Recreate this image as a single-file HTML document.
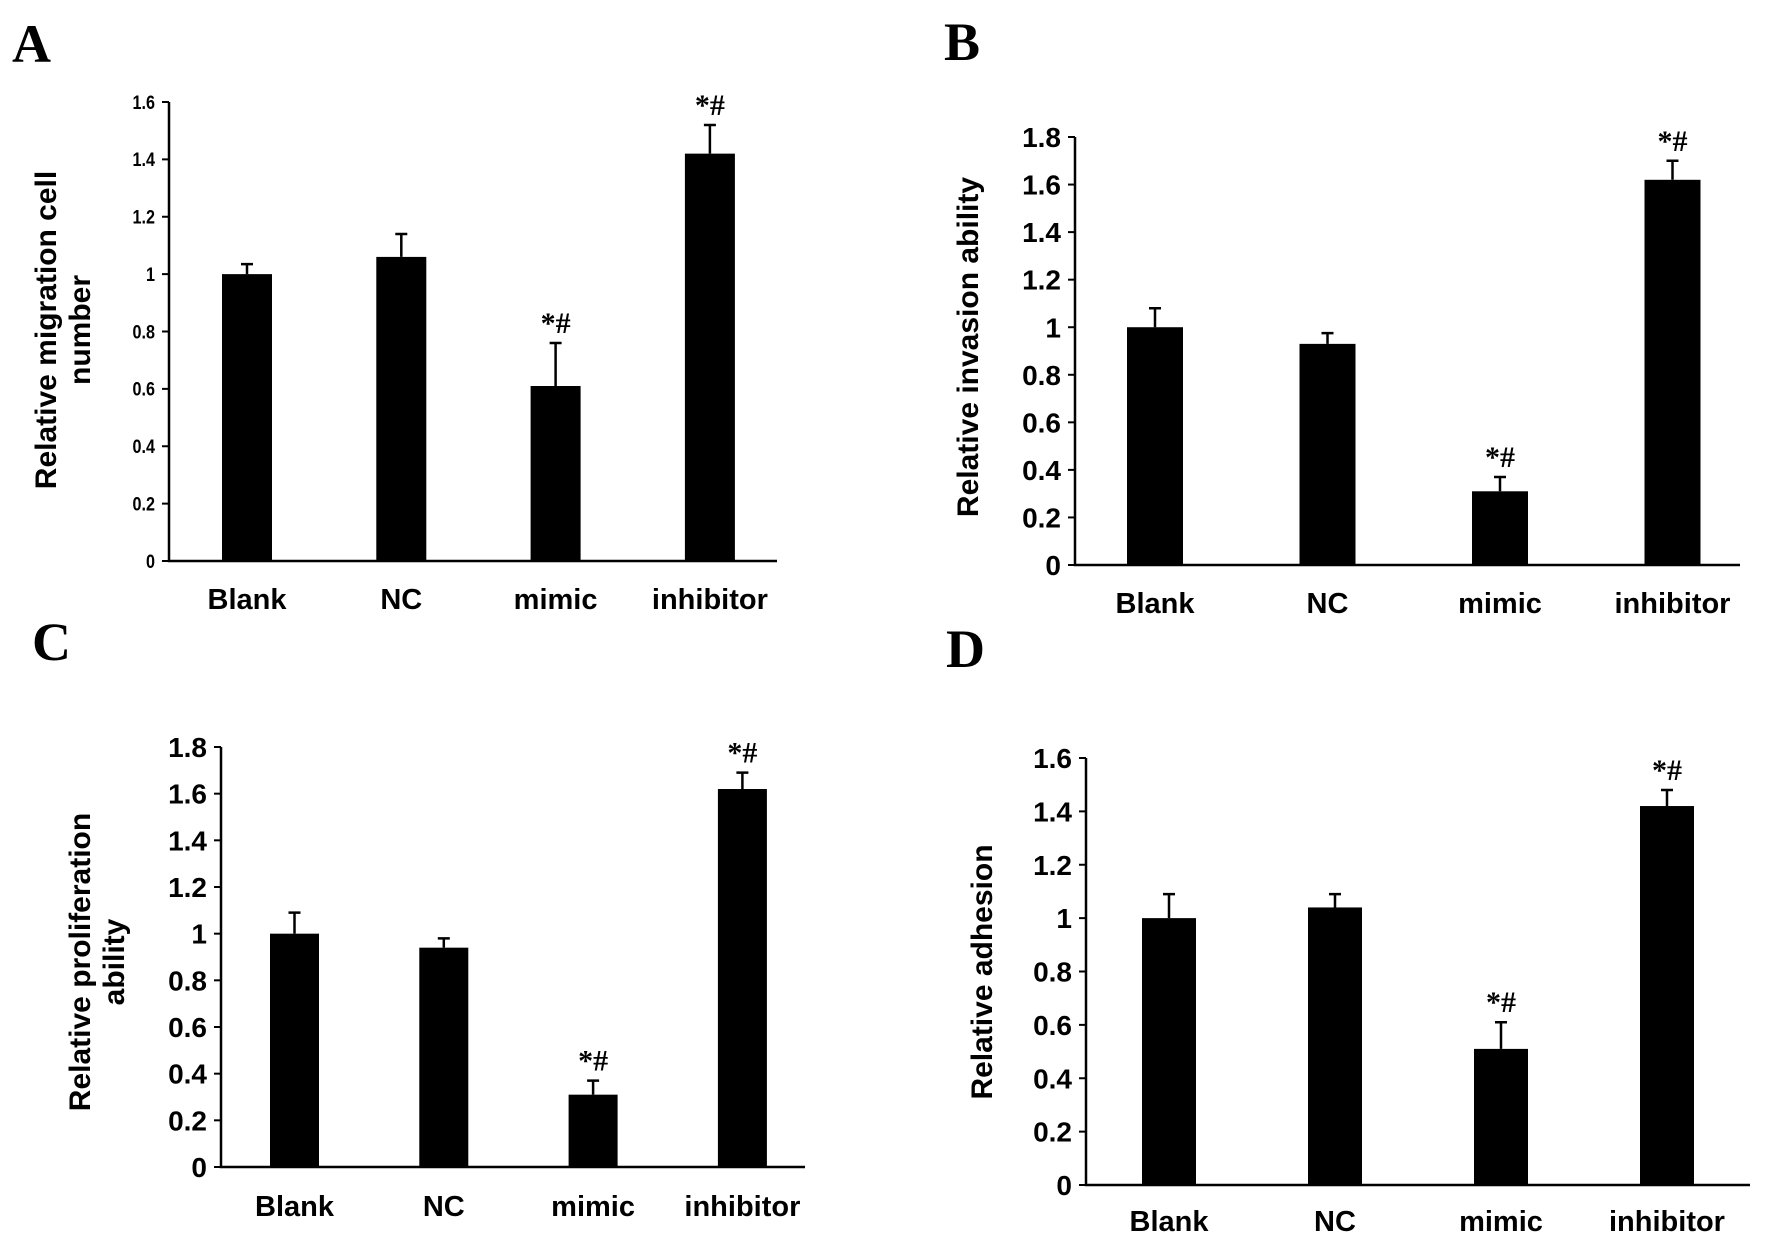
<!DOCTYPE html>
<html><head><meta charset="utf-8"><style>
body{margin:0;background:#fff;overflow:hidden;}
svg{display:block;font-family:"Liberation Sans",sans-serif;font-weight:bold;}
</style></head><body>
<svg id="fig" width="1772" height="1258" viewBox="0 0 1772 1258">
<text x="12" y="62" font-family="Liberation Serif" font-size="54">A</text>
<text x="944" y="60" font-family="Liberation Serif" font-size="54">B</text>
<text x="32" y="660" font-family="Liberation Serif" font-size="54">C</text>
<text x="946" y="667" font-family="Liberation Serif" font-size="54">D</text>
</svg>
<script>
const categories = ["Blank","NC","mimic","inhibitor"];
const valuesA = [1.0, 1.06, 0.61, 1.42];
const errorsA = [0.035, 0.08, 0.15, 0.10];
const valuesB = [1.0, 0.93, 0.31, 1.62];
const errorsB = [0.08, 0.045, 0.06, 0.08];
const valuesC = [1.0, 0.94, 0.31, 1.62];
const errorsC = [0.09, 0.04, 0.06, 0.07];
const valuesD = [1.0, 1.04, 0.51, 1.42];
const errorsD = [0.09, 0.05, 0.10, 0.06];
const ticksA = ["0","0.2","0.4","0.6","0.8","1","1.2","1.4","1.6"];
const ticksB = ["0","0.2","0.4","0.6","0.8","1","1.2","1.4","1.6","1.8"];
const ticksC = ["0","0.2","0.4","0.6","0.8","1","1.2","1.4","1.6","1.8"];
const ticksD = ["0","0.2","0.4","0.6","0.8","1","1.2","1.4","1.6"];
const sigA = ["","","*#","*#"], sigB = ["","","*#","*#"], sigC = ["","","*#","*#"], sigD = ["","","*#","*#"];

const NS="http://www.w3.org/2000/svg";
const svg=document.getElementById('fig');
function mk(tag,attrs,parent){const e=document.createElementNS(NS,tag);for(const k in attrs)e.setAttribute(k,attrs[k]);(parent||svg).appendChild(e);return e;}

function panel(p,name,vals,errs,ticks,sig,title){
  const g=mk('g',{});
  
  
  const max=parseFloat(ticks[ticks.length-1]);
  const y=v=>p.y0-(v/max)*(p.y0-p.yTop);
  const x=i=>p.bx0+i*p.step;
  const ax=mk('path',{d:`M${p.ax} ${p.yTop} V${p.y0} H${p.xEnd}`,stroke:'#000','stroke-width':2.5,fill:'none'},g);
  
  
  ticks.forEach(t=>{
    const v=parseFloat(t);
    mk('line',{x1:p.ax-7,x2:p.ax,y1:y(v),y2:y(v),stroke:'#000','stroke-width':2},g);
    const tx=mk('text',{x:p.ax-14,y:y(v)+p.tf*0.36,'text-anchor':'end','font-size':p.tf,transform:p.cond?`translate(${(p.ax-14)*0.15},0) scale(0.85,1)`:''},g);
    tx.textContent=t;
    
    
  });
  vals.forEach((v,i)=>{
    const cx=x(i)+p.bw/2;
    const eb=mk('path',{d:`M${cx} ${y(v)} V${y(v+errs[i])} M${cx-6} ${y(v+errs[i])} H${cx+6}`,stroke:'#000','stroke-width':2.5,fill:'none'},g);
    
    
    const r=mk('rect',{x:x(i),y:y(v),width:p.bw,height:p.y0-y(v),fill:'#000'},g);
    
    
    if(sig[i]){
      const s=mk('text',{x:cx,y:y(v+errs[i])-10,'text-anchor':'middle','font-size':30,'font-family':'Liberation Serif'},g);
      s.textContent=sig[i];
      
      
    }
    const l=mk('text',{x:cx,y:p.ly,'text-anchor':'middle','font-size':29},g);
    l.textContent=categories[i];
    
    
  });
  title.forEach((t,k)=>{
    const tt=mk('text',{x:0,y:0,'text-anchor':'middle','font-size':30,transform:`translate(${p.tx+k*34},${p.ty}) rotate(-90)`},g);
    tt.textContent=t;
    
    
  });
}
panel({ax:169,yTop:102,y0:561,xEnd:777,bx0:222,step:154.3,bw:50,ly:609,tf:19,cond:true,tx:56,ty:330},'a',valuesA,errorsA,ticksA,sigA,["Relative migration cell","number"]);
panel({ax:1075,yTop:137,y0:565,xEnd:1740,bx0:1127,step:172.5,bw:56,ly:613,tf:28,tx:978,ty:347},'b',valuesB,errorsB,ticksB,sigB,["Relative invasion ability"]);
panel({ax:221,yTop:747,y0:1167,xEnd:805,bx0:270,step:149.3,bw:49,ly:1216,tf:28,tx:90,ty:962},'c',valuesC,errorsC,ticksC,sigC,["Relative proliferation","ability"]);
panel({ax:1086,yTop:758,y0:1185,xEnd:1750,bx0:1142,step:166,bw:54,ly:1231,tf:28,tx:992,ty:972},'d',valuesD,errorsD,ticksD,sigD,["Relative adhesion"]);
</script>
</body></html>
